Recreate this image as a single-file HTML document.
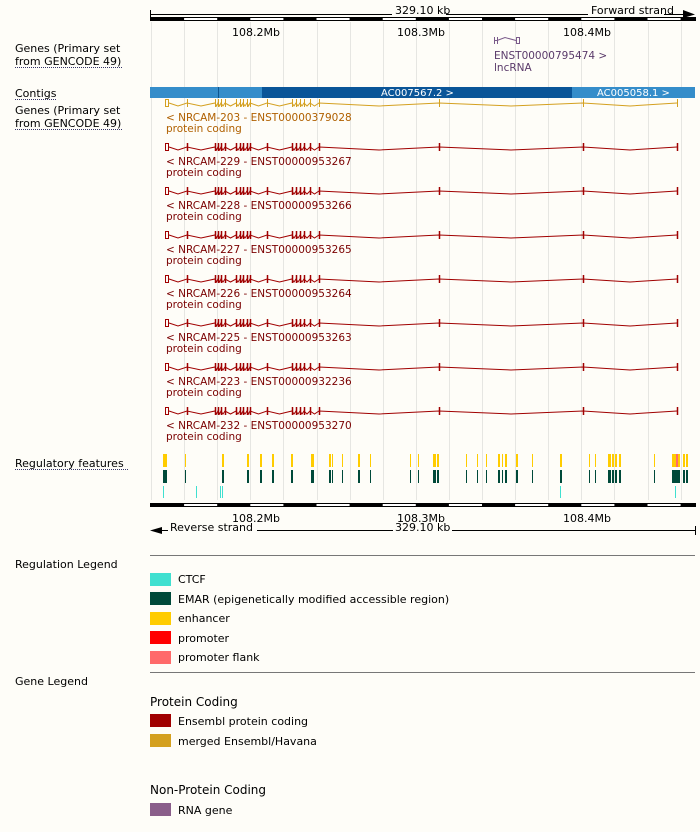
<!DOCTYPE html>
<html><head><meta charset="utf-8"><style>
body{margin:0;background:#fefdf8;width:700px;height:827px;overflow:hidden}
svg text{font-family:"DejaVu Sans","Liberation Sans",sans-serif;font-size:11px}
svg .t text{font-size:10.5px}
</style></head><body>
<svg id="s" width="700" height="827" xmlns="http://www.w3.org/2000/svg">
<g id="grid"></g>
<g id="draw"></g>
<g fill="#000">
<text x="15" y="52">Genes (Primary set</text><text x="15" y="65">from GENCODE 49)</text>
<text x="15" y="97">Contigs</text>
<text x="15" y="114">Genes (Primary set</text><text x="15" y="127">from GENCODE 49)</text>
<text x="15" y="467">Regulatory features</text>
<text x="15" y="568">Regulation Legend</text>
<text x="15" y="685">Gene Legend</text>
</g>
<g stroke="#336" stroke-dasharray="1,1" stroke-width="1">
<line x1="15" y1="67.5" x2="123" y2="67.5"/><line x1="15" y1="99.5" x2="57" y2="99.5"/>
<line x1="15" y1="129.5" x2="123" y2="129.5"/><line x1="15" y1="469.5" x2="128" y2="469.5"/>
</g>
<line x1="150.5" y1="10" x2="150.5" y2="17" stroke="#000"/>
<line x1="151" y1="14.5" x2="392" y2="14.5" stroke="#000"/>
<text x="395" y="14" fill="#000">329.10 kb</text>
<line x1="446" y1="14.5" x2="588" y2="14.5" stroke="#000"/>
<text x="591" y="14">Forward strand</text>
<line x1="664" y1="14.5" x2="683" y2="14.5" stroke="#000"/>
<polygon points="683,10 695,14.5 683,18" fill="#000"/>
<text x="232" y="36">108.2Mb</text><text x="397" y="36">108.3Mb</text><text x="563" y="36">108.4Mb</text>
<g stroke="#7a5a8a" fill="none"><path d="M494.5,37v7M497.5,37v7M497,40.5L505,37.5L516,40.5"/><rect x="516.5" y="37.5" width="3" height="6"/><line x1="494" y1="40.5" x2="497" y2="40.5"/></g>
<g class="t"><text x="494" y="59" fill="#5a3a6a">ENST00000795474 &gt;</text><text x="494" y="71" fill="#5a3a6a">lncRNA</text></g>
<rect x="150" y="87" width="112" height="11" fill="#358dca"/>
<line x1="218.5" y1="87" x2="218.5" y2="98" stroke="#0e5590"/>
<rect x="262" y="87" width="310" height="11" fill="#0a5598"/>
<rect x="572" y="87" width="123" height="11" fill="#358dca"/>
<text x="381" y="96" fill="#fff" style="font-size:10px">AC007567.2 &gt;</text>
<text x="597" y="96" fill="#fff" style="font-size:10px">AC005058.1 &gt;</text>
<g class="t">
<g fill="#b06000"><text x="166" y="121">&lt; NRCAM-203 - ENST00000379028</text><text x="166" y="132">protein coding</text></g>
<g fill="#7a0000">
<text x="166" y="165">&lt; NRCAM-229 - ENST00000953267</text><text x="166" y="176">protein coding</text>
<text x="166" y="209">&lt; NRCAM-228 - ENST00000953266</text><text x="166" y="220">protein coding</text>
<text x="166" y="253">&lt; NRCAM-227 - ENST00000953265</text><text x="166" y="264">protein coding</text>
<text x="166" y="297">&lt; NRCAM-226 - ENST00000953264</text><text x="166" y="308">protein coding</text>
<text x="166" y="341">&lt; NRCAM-225 - ENST00000953263</text><text x="166" y="352">protein coding</text>
<text x="166" y="385">&lt; NRCAM-223 - ENST00000932236</text><text x="166" y="396">protein coding</text>
<text x="166" y="429">&lt; NRCAM-232 - ENST00000953270</text><text x="166" y="440">protein coding</text>
</g></g>
<text x="232" y="522">108.2Mb</text><text x="397" y="522">108.3Mb</text><text x="563" y="522">108.4Mb</text>
<polygon points="150,530.5 162,527 162,534" fill="#000"/>
<line x1="162" y1="530.5" x2="168" y2="530.5" stroke="#000"/>
<text x="170" y="531">Reverse strand</text>
<line x1="257" y1="530.5" x2="393" y2="530.5" stroke="#000"/>
<text x="395" y="531">329.10 kb</text>
<line x1="452" y1="530.5" x2="695" y2="530.5" stroke="#000"/>
<line x1="695.5" y1="526" x2="695.5" y2="535" stroke="#000"/>
<line x1="150" y1="555.5" x2="695" y2="555.5" stroke="#777"/>
<rect x="150" y="573" width="21" height="13" fill="#40e0d0"/><text x="178" y="583">CTCF</text>
<rect x="150" y="592" width="21" height="13" fill="#004a3a"/><text x="178" y="603">EMAR (epigenetically modified accessible region)</text>
<rect x="150" y="612" width="21" height="13" fill="#ffcc00"/><text x="178" y="622">enhancer</text>
<rect x="150" y="631" width="21" height="13" fill="#ff0000"/><text x="178" y="642">promoter</text>
<rect x="150" y="651" width="21" height="13" fill="#ff6a6a"/><text x="178" y="661">promoter flank</text>
<line x1="150" y1="672.5" x2="695" y2="672.5" stroke="#777"/>
<text x="150" y="706" style="font-size:12px">Protein Coding</text>
<rect x="150" y="714" width="21" height="13" fill="#a00000"/><text x="178" y="725">Ensembl protein coding</text>
<rect x="150" y="734" width="21" height="13" fill="#d4a020"/><text x="178" y="745">merged Ensembl/Havana</text>
<text x="150" y="794" style="font-size:12px">Non-Protein Coding</text>
<rect x="150" y="803" width="21" height="13" fill="#8a5e8a"/><text x="178" y="814">RNA gene</text>
</svg>
<script>
var NS="http://www.w3.org/2000/svg";
function el(p,t,a){var e=document.createElementNS(NS,t);for(var k in a)e.setAttribute(k,a[k]);document.getElementById(p).appendChild(e);return e;}
for(var x=151;x<696;x+=33.1){var X=Math.round(x)+.5;var dark=[253.5,418.5,584.5].indexOf(X)>=0;
 el("grid","line",{x1:X,y1:22,x2:X,y2:500,stroke:dark?"#ccc":"#e6e6e2"});}
function bar(y){el("draw","rect",{x:150.5,y:y+.5,width:545,height:3,fill:"#fff",stroke:"#000"});
 var i=0;for(var x=151;x<696;x+=33.1,i++){if(i%2==0)el("draw","rect",{x:x,y:y,width:Math.min(33.1,695.5-x),height:4,fill:"#000"});}}
bar(17);bar(503);
var ex=[167,187,215,218,221,225,236,240,243,247,250,267,292,296,300,304,310,319,439,583,677];
function tr(y,c,th){
 el("draw","rect",{x:165.5,y:y-3.5,width:3,height:7,fill:"none",stroke:c});
 for(var i=1;i<ex.length;i++){el("draw","line",{x1:ex[i]+.5,y1:y-4,x2:ex[i]+.5,y2:y+4,stroke:c,"stroke-width":th});}
 var d="M169,"+y;for(var i=1;i<ex.length;i++){var a=(i==1?169:ex[i-1]),b=ex[i];d+=" L"+((a+b)/2)+","+(y+3)+" L"+b+","+y;}
 el("draw","path",{d:d,fill:"none",stroke:c,"stroke-width":1});}
tr(103,"#d4a020",1);
[147,191,235,279,323,367,411].forEach(function(y){tr(y,"#a00000",1.5)});
var yel=[[163,4],[185,1],[222,2],[247,2],[260,2],[272,2],[291,2],[311,3],[329,2],[332,1],[342,1],[358,2],[370,1],[410,1],[418,1],[433,3],[437,2],[466,1],[477,1],[486,1],[498,2],[502,1],[505,2],[516,2],[532,1],[560,2],[589,1],[595,1],[608,3],[612,2],[615,2],[619,2],[654,1],[672,2],[674,2],[678,2],[683,2],[686,2]];
yel.forEach(function(p){el("draw","rect",{x:p[0],y:454,width:p[1],height:13,fill:"#ffcc00"});
 el("draw","rect",{x:p[0],y:470,width:p[1]+(p[0]==674?4:0),height:13,fill:"#004a3a"});});
el("draw","rect",{x:676,y:454,width:2,height:13,fill:"#ff6a6a"});
[[163,1],[196,1],[220,1],[222,1],[560,1],[675,1]].forEach(function(p){el("draw","rect",{x:p[0],y:486,width:p[1],height:12,fill:"#40e0d0"});});
</script>
</body></html>
